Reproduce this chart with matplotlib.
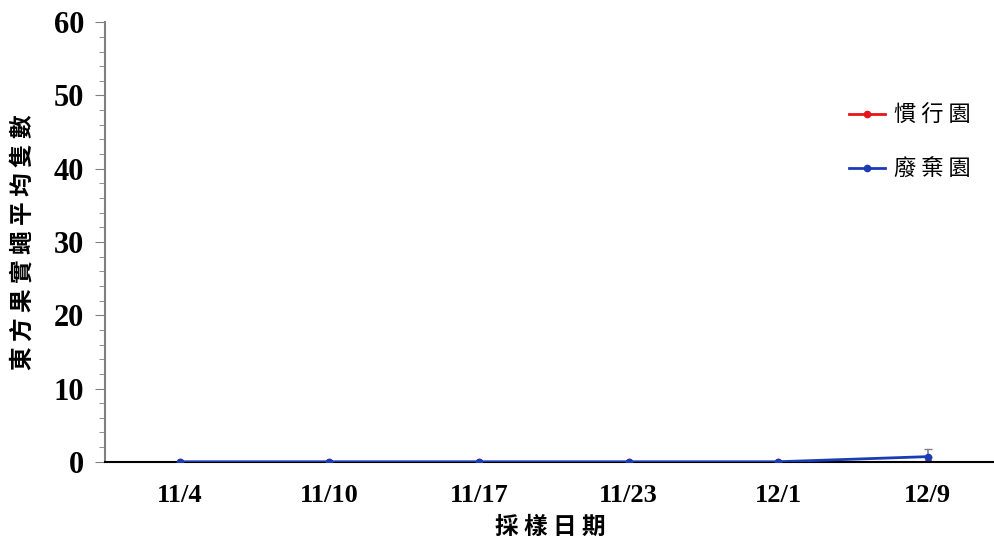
import matplotlib
matplotlib.use("Agg")
import matplotlib.pyplot as plt
from matplotlib.ticker import MultipleLocator

DATES = ["11/4", "11/10", "11/17", "11/23", "12/1", "12/9"]
CONVENTIONAL = [0, 0, 0, 0, 0, 0]
ABANDONED = [0, 0, 0, 0, 0, 0.7]
ABANDONED_ERR = [0, 0, 0, 0, 0, 1.1]

CJK = ["Noto Sans CJK TC", "DejaVu Sans"]

fig = plt.figure(figsize=(9.95, 5.55), dpi=100)
ax = fig.add_axes([0.1055, 0.168, 0.8945, 0.792])
xs = list(range(len(DATES)))
ax.errorbar(xs, ABANDONED, yerr=[[0] * 6, ABANDONED_ERR], fmt="none", ecolor="#808080",
            capsize=3, elinewidth=1.2, zorder=1)
ax.plot(xs, CONVENTIONAL, color="#e8141c", marker="o", markersize=4.5, linewidth=2, label="慣 行 園", zorder=2)
ax.plot(xs, ABANDONED, color="#1a3cb4", marker="o", markersize=4.5, linewidth=2, label="廢 棄 園", zorder=3)

ax.set_xlim(-0.5, 5.45)
ax.set_ylim(0, 60)
ax.yaxis.set_major_locator(MultipleLocator(10))
ax.yaxis.set_minor_locator(MultipleLocator(2))
ax.set_xticks(xs)
ax.set_xticklabels(DATES)
ax.tick_params(axis="x", length=0, pad=16)
ax.tick_params(axis="y", which="major", direction="out", length=7, color="#808080", pad=8)
ax.tick_params(axis="y", which="minor", direction="out", length=4, color="#808080")
for lab in ax.get_xticklabels() + ax.get_yticklabels():
    lab.set_fontfamily("Liberation Serif")
    lab.set_fontweight("bold")
ax.tick_params(axis="x", labelsize=19)
ax.tick_params(axis="y", labelsize=22)
for side in ["top", "right"]:
    ax.spines[side].set_visible(False)
ax.spines["left"].set_color("#808080")
ax.spines["left"].set_linewidth(1.5)
ax.spines["bottom"].set_color("black")
ax.spines["bottom"].set_linewidth(1.5)

ax.set_xlabel("採 樣 日 期", family=CJK, fontsize=17, fontweight="bold", labelpad=6)
ax.set_ylabel("東 方 果 實 蠅 平 均 隻 數", family=CJK, fontsize=17, fontweight="bold", labelpad=14)
ax.legend(loc="upper right", bbox_to_anchor=(0.995, 0.86), frameon=False,
          prop={"family": CJK, "size": 16}, labelspacing=1.4, handlelength=1.6, handletextpad=0.4)

fig.savefig("out.png", dpi=100)
